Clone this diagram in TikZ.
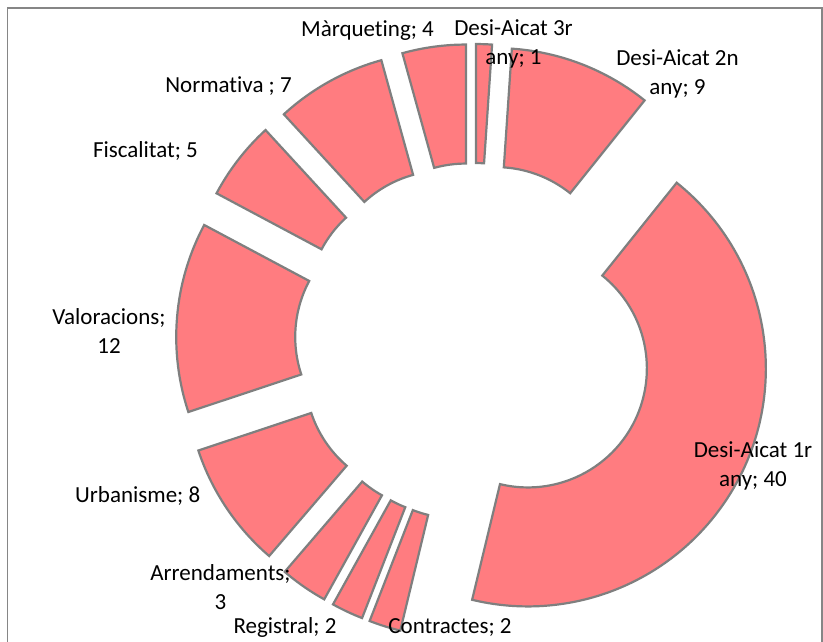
\documentclass[tikz,border=0pt]{standalone}
\usepackage{fontspec}
\setmainfont{Carlito}[Ligatures={NoCommon}]
\usetikzlibrary{calc}
\definecolor{slicefill}{HTML}{FF7C80}
\definecolor{sliceline}{HTML}{7F7F7F}
\definecolor{framecol}{HTML}{868686}
\newcommand{\lbltext}[1]{\begin{tabular}[t]{@{}c@{}}#1\end{tabular}}
\begin{document}
\begin{tikzpicture}[x=1pt,y=1pt,
  slice/.style={fill=slicefill, draw=sliceline, line width=2.2pt, line join=miter},
  lab/.style={anchor=base, inner sep=0pt, font=\fontsize{23}{29}\selectfont},
  frame/.style={draw=framecol, line width=1.6pt}]
\useasboundingbox (0,0) rectangle (823,-641);
\coordinate (bl) at (7.3,-650);
\coordinate (tl) at (7.3,-8);
\coordinate (tr) at (822,-8);
\coordinate (br) at (822,-650);
\draw[frame] (bl) -- (tl) -- (tr) -- (br);
\coordinate (C) at (474,-342);
\foreach \s/\e in {0/1,1/10,10/50,50/52,52/54,54/57,57/65,65/77,77/82,82/89,89/93}{
  \pgfmathsetmacro{\ta}{90-\s*3.8709677}
  \pgfmathsetmacro{\tb}{90-\e*3.8709677}
  \pgfmathsetmacro{\tm}{(\ta+\tb)/2}
  \draw[slice] ($(C)+(\tm:60pt)+(\ta:238pt)$) arc[start angle=\ta, end angle=\tb, radius=238pt]
     -- ($(C)+(\tm:60pt)+(\tb:119pt)$) arc[start angle=\tb, end angle=\ta, radius=119pt] -- cycle;
}
\node[lab] (lmarq) at (367.5,-36.7) {\lbltext{Màrqueting; 4}};
\node[lab] (l3r) at (513.5,-35) {\lbltext{Desi-Aicat 3r\\any; 1}};
\node[lab] (l2n) at (677.5,-65) {\lbltext{Desi-Aicat 2n\\any; 9}};
\node[lab] (lnorm) at (228.5,-92.7) {\lbltext{Normativa ; 7}};
\node[lab] (lfisc) at (145.5,-157.7) {\lbltext{Fiscalitat; 5}};
\node[lab] (lval) at (109,-324.3) {\lbltext{Valoracions;\\12}};
\node[lab] (lurb) at (137.7,-502.7) {\lbltext{Urbanisme; 8}};
\node[lab] (larr) at (220.5,-580) {\lbltext{Arrendaments;\\3}};
\node[lab] (lreg) at (285,-633.3) {\lbltext{Registral; 2}};
\node[lab] (lcon) at (450,-633.3) {\lbltext{Contractes; 2}};
\node[lab] (l1r) at (753,-457.3) {\lbltext{Desi-Aicat 1r\\any; 40}};
\end{tikzpicture}
\end{document}
